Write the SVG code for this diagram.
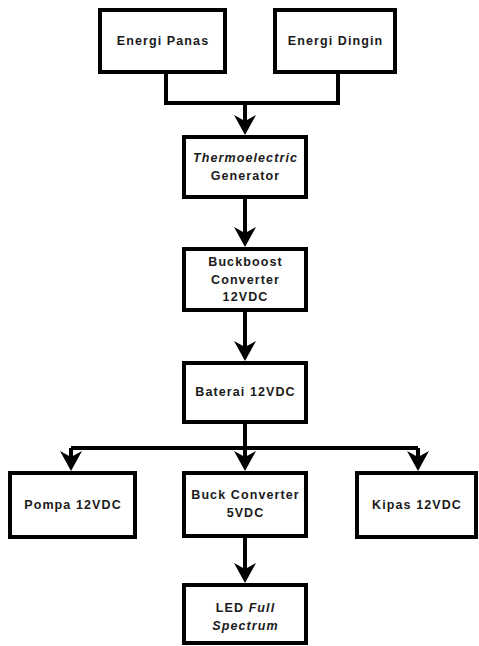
<svg xmlns="http://www.w3.org/2000/svg" width="479" height="646" viewBox="0 0 479 646">
<style>
.box{fill:#fff;stroke:#000;stroke-width:4}
.t{font-family:"Liberation Sans",Arial,sans-serif;font-weight:bold;font-size:12.5px;letter-spacing:1.1px;fill:#1a1a1a;text-anchor:middle}
.i{font-style:italic}
.c{fill:none;stroke:#000;stroke-width:4}
</style>
<defs>
<marker id="ah" viewBox="0 0 20 22" markerUnits="userSpaceOnUse" markerWidth="20" markerHeight="22" refX="7" refY="11" orient="auto">
<path d="M0,0 L20,11 L0,22 L6,11 Z" fill="#000"/>
</marker>
</defs>
<rect width="479" height="646" fill="#fff"/>
<g id="connectors">
<path class="c" d="M166,74 V103 H338 V74"/>
<path class="c" d="M245,103 V122" marker-end="url(#ah)"/>
<path class="c" d="M245,199 V234" marker-end="url(#ah)"/>
<path class="c" d="M245,312 V348" marker-end="url(#ah)"/>
<path class="c" d="M245,424 V448 M71,448 H418"/>
<path class="c" d="M71,448 V458" marker-end="url(#ah)"/>
<path class="c" d="M245,448 V458" marker-end="url(#ah)"/>
<path class="c" d="M418,448 V458" marker-end="url(#ah)"/>
<path class="c" d="M245,538 V570" marker-end="url(#ah)"/>
</g>
<g id="energi-panas">
<rect class="box" x="100" y="10" width="125" height="62"/>
<text class="t" x="163" y="45">Energi Panas</text>
</g>
<g id="energi-dingin">
<rect class="box" x="275" y="10" width="120" height="62"/>
<text class="t" x="335.5" y="45">Energi Dingin</text>
</g>
<g id="teg">
<rect class="box" x="184" y="137" width="122" height="60"/>
<text class="t" x="245.5" y="162"><tspan class="i">Thermoelectric</tspan><tspan x="245.5" dy="17.5">Generator</tspan></text>
</g>
<g id="buckboost">
<rect class="box" x="184" y="249" width="122" height="61"/>
<text class="t" x="245.5" y="266">Buckboost<tspan x="245.5" dy="17.5">Converter</tspan><tspan x="245.5" dy="17.5">12VDC</tspan></text>
</g>
<g id="baterai">
<rect class="box" x="184" y="363" width="122" height="59"/>
<text class="t" x="245.5" y="396">Baterai 12VDC</text>
</g>
<g id="pompa">
<rect class="box" x="10" y="473" width="125" height="64"/>
<text class="t" x="73" y="509">Pompa 12VDC</text>
</g>
<g id="buck">
<rect class="box" x="184" y="473" width="122" height="63"/>
<text class="t" x="245.5" y="499">Buck Converter<tspan x="245.5" dy="17.5">5VDC</tspan></text>
</g>
<g id="kipas">
<rect class="box" x="357" y="473" width="119" height="64"/>
<text class="t" x="417" y="509">Kipas 12VDC</text>
</g>
<g id="led">
<rect class="box" x="184" y="585" width="122" height="58"/>
<text class="t" x="245.5" y="612">LED <tspan class="i">Full</tspan><tspan x="245.5" dy="17.5" class="i">Spectrum</tspan></text>
</g>
</svg>
